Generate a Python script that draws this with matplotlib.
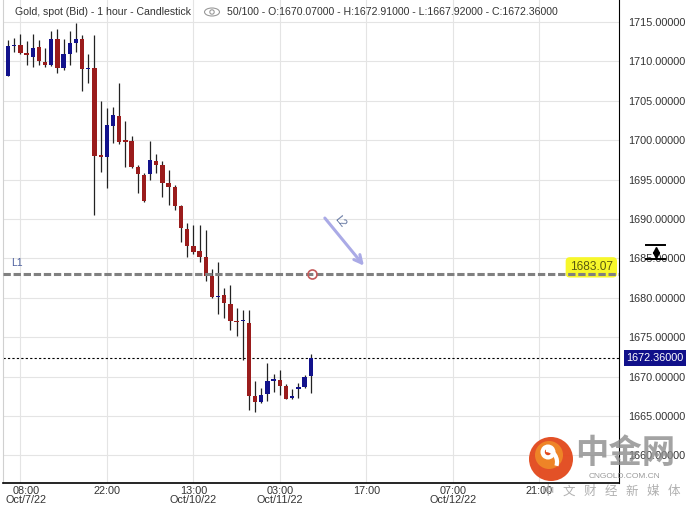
import matplotlib
matplotlib.use("Agg")
import matplotlib.pyplot as plt
import matplotlib.transforms as mtransforms
from matplotlib.patches import Circle, Ellipse, Arc

plt.rcParams['font.family'] = ['Liberation Sans', 'DejaVu Sans']

# hourly candles, Oct 7 06:00 -> Oct 11 07:00 (gold spot, bid)
opens = [1708.2, 1711.9, 1712.1, 1711.1, 1710.6, 1711.8, 1709.9, 1709.6, 1712.9, 1709.2,
         1711.0, 1712.4, 1712.9, 1709.0, 1709.2, 1698.0, 1697.9, 1701.8, 1703.1, 1699.9,
         1699.9, 1696.6, 1695.6, 1695.7, 1697.4, 1696.8, 1694.6, 1694.1, 1691.6, 1688.7,
         1686.6, 1685.9, 1685.2, 1682.8, 1680.1, 1680.3, 1679.2, 1677.0, 1677.0, 1676.8,
         1667.5, 1666.8, 1667.75, 1669.4, 1669.6, 1668.8, 1667.3, 1668.4, 1668.7, 1670.07]
highs = [1712.7, 1713.0, 1713.5, 1712.6, 1713.5, 1712.7, 1711.7, 1713.9, 1714.1, 1712.8,
         1713.9, 1714.9, 1713.4, 1711.0, 1713.4, 1705.0, 1704.1, 1704.2, 1707.3, 1702.4,
         1700.5, 1696.9, 1695.9, 1699.9, 1698.3, 1697.4, 1696.2, 1694.3, 1691.8, 1689.5,
         1689.3, 1689.2, 1688.6, 1683.6, 1684.6, 1681.2, 1681.6, 1678.7, 1678.5, 1678.5,
         1669.4, 1668.5, 1671.7, 1670.3, 1670.8, 1669.1, 1668.4, 1669.2, 1670.2, 1672.91]
lows = [1708.2, 1711.2, 1711.0, 1709.5, 1709.3, 1709.5, 1709.3, 1709.4, 1708.5, 1708.9,
        1709.5, 1711.2, 1706.3, 1707.3, 1690.5, 1696.0, 1693.9, 1699.6, 1699.5, 1696.6,
        1696.5, 1693.3, 1692.2, 1695.0, 1695.8, 1692.8, 1691.8, 1691.1, 1687.1, 1685.2,
        1685.6, 1684.6, 1682.2, 1680.0, 1678.0, 1677.4, 1675.9, 1675.1, 1672.1, 1665.8,
        1665.5, 1666.6, 1666.9, 1668.1, 1667.7, 1667.1, 1667.2, 1667.3, 1668.6, 1667.92]
closes = [1711.9, 1712.0, 1711.1, 1710.8, 1711.7, 1710.0, 1709.5, 1712.9, 1709.2, 1711.0,
          1712.4, 1712.8, 1709.0, 1709.1, 1698.0, 1697.9, 1701.9, 1703.2, 1699.8, 1699.8,
          1696.6, 1695.7, 1692.3, 1697.5, 1696.8, 1694.6, 1694.1, 1691.6, 1688.8, 1686.6,
          1685.8, 1685.2, 1682.8, 1680.1, 1680.2, 1679.3, 1677.0, 1676.9, 1677.1, 1667.5,
          1666.8, 1667.7, 1669.4, 1669.7, 1668.8, 1667.2, 1667.4, 1668.7, 1670.0, 1672.36]

time_labels = ["08:00\nOct/7/22", "22:00", "13:00\nOct/10/22", "03:00\nOct/11/22",
               "17:00", "07:00\nOct/12/22", "21:00"]
price_ticks = [1660, 1665, 1670, 1675, 1680, 1685, 1690, 1695, 1700, 1705, 1710, 1715]

l1_level = 1683.07
l1_marker = (49.2, 1683.07)
l2_start = (51.0, 1690.4)
l2_end = (57.9, 1683.8)

fig = plt.figure(figsize=(6.89, 5.07), dpi=100)
ax = fig.add_axes([3 / 689, 24 / 507, 616 / 689, 483 / 507])

idx = list(range(len(opens)))
colors = ['#12128c' if c >= o else '#9a1c1c' for o, c in zip(opens, closes)]
bottoms = [min(o, c) for o, c in zip(opens, closes)]
heights = [max(abs(c - o), 0.18) for o, c in zip(opens, closes)]
ax.vlines(idx, lows, highs, color='#222222', linewidth=0.9, zorder=3)
ax.bar(idx, heights, width=0.7, bottom=bottoms, color=colors, linewidth=0, zorder=4)

ax.set_xlim(-0.81, 98.9)
ax.set_ylim(1656.5, 1717.8)

ax.set_xticks(list(range(2, 100, 14)))
ax.set_xticklabels(time_labels, linespacing=0.95)
ax.set_yticks(price_ticks)
ax.set_yticklabels(["%.5f" % p for p in price_ticks])
ax.yaxis.tick_right()
ax.tick_params(axis='y', length=0, pad=6.5, labelsize=7.8, labelcolor='#333333')
ax.tick_params(axis='x', length=0, pad=2, labelsize=7.8, labelcolor='#333333')
ax.grid(color='#e4e4e4', linewidth=0.8, zorder=0)
ax.set_axisbelow(True)

# first date label sits a little to the right so it stays inside the figure
first = ax.get_xticklabels()[0]
first.set_transform(first.get_transform() +
                    mtransforms.ScaledTranslation(4 / 72, 0, fig.dpi_scale_trans))

ax.spines['top'].set_visible(False)
ax.spines['left'].set_color('#d0d0d0')
ax.spines['right'].set_color('black')
ax.spines['bottom'].set_color('black')
ax.spines['bottom'].set_linewidth(1.2)

# last price
ax.axhline(closes[-1], color='black', linestyle=(0, (2, 2)), linewidth=0.8, zorder=2)
ax.text(1.012, closes[-1], "%.5f" % closes[-1], transform=ax.get_yaxis_transform(),
        ha='left', va='center', fontsize=7.8, color='white', clip_on=False,
        bbox=dict(boxstyle='square,pad=0.25', fc='#10108a', ec='none'))

# L1 horizontal line
ax.axhline(l1_level, color='#808080', linewidth=2.2, dashes=(2.4, 0.9), zorder=5)
ax.text(0.014, l1_level + 0.7, "L1", transform=ax.get_yaxis_transform(), fontsize=7.5,
        color='#4c5f9e', va='bottom')
ax.text(0.99, l1_level + 0.8, "%.2f" % l1_level, transform=ax.get_yaxis_transform(),
        ha='right', va='center', fontsize=8.6, color='#5a5a10', zorder=4,
        bbox=dict(boxstyle='round,pad=0.35', fc='#f7f72a', ec='none'))
ax.plot(*l1_marker, 'o', mfc='none', mec='#c45a5a', ms=6.5, mew=1.2, zorder=6)

# L2 arrow
ax.annotate('', xy=l2_end, xytext=l2_start,
            arrowprops=dict(arrowstyle='->', color='#aaaae6', lw=2.2, mutation_scale=14))
ax.text(53.7, 1689.7, "L2", rotation=-51, fontsize=7.5, color='#5a6e9c',
        ha='center', va='center')

# overlay in pixel coordinates for header and decorations
ov = fig.add_axes([0, 0, 1, 1], facecolor='none')
ov.set_xlim(0, 689)
ov.set_ylim(507, 0)
ov.axis('off')

ov.text(15, 12, "Gold, spot (Bid) - 1 hour - Candlestick", fontsize=7.6,
        color='#333333', va='center')
ov.text(227, 12, "50/100 - O:1670.07000 - H:1672.91000 - L:1667.92000 - C:1672.36000",
        fontsize=7.6, color='#333333', va='center')
ov.add_patch(Ellipse((212, 12), 15, 8, fill=False, ec='#9a9a9a', lw=0.8))
ov.add_patch(Circle((212, 12), 2.2, fill=False, ec='#9a9a9a', lw=0.8))

# scale icon
ov.plot([646, 665], [245, 245], color='black', lw=1.4)
ov.plot([646, 665], [259, 259], color='black', lw=1.4)
ov.plot([655.5], [249.5], marker='^', color='black', ms=4)
ov.plot([655.5], [254.5], marker='v', color='black', ms=4)

# watermark
ov.add_patch(Circle((551, 459), 22, fc='#e2471b', ec='none', alpha=0.95))
ov.add_patch(Circle((549, 455), 14, fc='#f08a28', ec='none', alpha=0.9))
ov.add_patch(Circle((548, 452), 7.5, fc='white', ec='none'))
ov.add_patch(Circle((548, 452), 3.2, fc='#e2471b', ec='none'))
ov.add_patch(Arc((546, 462), 22, 24, theta1=270, theta2=20, color='white', lw=3))
ov.text(625, 454, "中金网", fontsize=24, color='#8c8c8c', alpha=0.8, ha='center',
        va='center', family=['Noto Sans CJK SC', 'DejaVu Sans'], fontweight='bold')
ov.text(624, 476, "CNGOLD.COM.CN", fontsize=6, color='#9a9a9a', ha='center', va='center')
for k, ch in enumerate("中文财经新媒体"):
    ov.text(548 + k * 21, 491, ch, fontsize=9, color='#a8a8a8', alpha=0.9,
            ha='center', va='center', family=['Noto Sans CJK SC', 'DejaVu Sans'])

fig.savefig('out.png', dpi=100)
